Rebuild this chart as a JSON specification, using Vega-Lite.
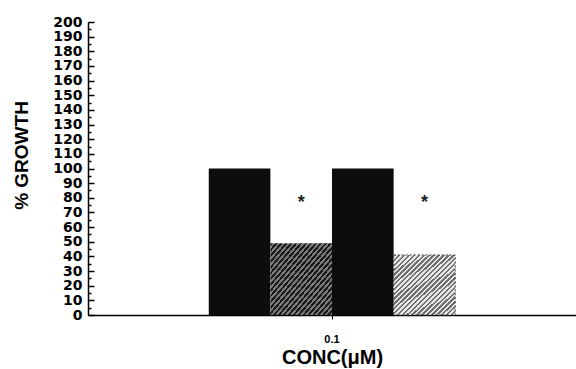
{
  "$schema": "https://vega.github.io/schema/vega-lite/v6.json",
  "width": 488,
  "height": 293,
  "autosize": "none",
  "padding": {"left": 88, "top": 22, "right": 0, "bottom": 54},
  "background": "white",
  "config": {"view": {"stroke": null}, "font": "Liberation Sans"},
  "data": {"values": [
    {"conc": "0.1", "group": "A", "kind": "bar", "value": 100},
    {"conc": "0.1", "group": "B", "kind": "bar", "value": 49},
    {"conc": "0.1", "group": "C", "kind": "bar", "value": 100},
    {"conc": "0.1", "group": "D", "kind": "bar", "value": 41},
    {"conc": "0.1", "group": "B", "kind": "star", "value": 80},
    {"conc": "0.1", "group": "D", "kind": "star", "value": 80}
  ]},
  "encoding": {
    "x": {"field": "conc", "type": "nominal",
      "scale": {"paddingOuter": 0.49, "paddingInner": 0},
      "axis": {"title": "CONC(μM)", "labelAngle": 0, "labelFontSize": 11, "labelFontWeight": "bold",
        "titleFontSize": 20, "titleFontWeight": "bold", "domainColor": "black", "domainWidth": 1.5,
        "tickColor": "black", "tickSize": 4, "labelPadding": 14, "titlePadding": 3,
        "labelColor": "black", "titleColor": "black"}},
    "xOffset": {"field": "group", "type": "nominal",
      "scale": {"domain": ["A", "B", "C", "D"], "paddingInner": 0, "paddingOuter": 0}},
    "y": {"field": "value", "type": "quantitative",
      "scale": {"domain": [0, 200], "nice": false},
      "axis": {"title": "% GROWTH",
        "values": [0,5,10,15,20,25,30,35,40,45,50,55,60,65,70,75,80,85,90,95,100,105,110,115,120,125,130,135,140,145,150,155,160,165,170,175,180,185,190,195,200],
        "labelExpr": "datum.value % 10 === 0 ? datum.label : ''",
        "tickSize": {"condition": {"test": "datum.value % 10 === 0", "value": -6}, "value": -3},
        "grid": false, "labelOverlap": false, "labelFont": "DejaVu Sans", "labelFontSize": 14, "labelFontWeight": "bold",
        "titleFontSize": 19, "titleFontWeight": "bold", "labelPadding": 12, "titlePadding": 21,
        "titleY": 133,
        "domainColor": "black", "domainWidth": 1.5, "tickColor": "black", "tickWidth": 1.5,
        "labelColor": "black", "titleColor": "black"}}
  },
  "layer": [
    {
      "transform": [{"filter": "datum.kind === 'bar' && (datum.group === 'A' || datum.group === 'C')"}],
      "mark": {"type": "bar", "fill": "#0d0d0d"}
    },
    {
      "transform": [{"filter": "datum.kind === 'bar' && datum.group === 'B'"}],
      "mark": {"type": "bar", "fill": {"gradient": "linear", "x1": 0, "y1": 0, "x2": 1, "y2": 1, "stops": [
        {"offset":0,"color":"#1a1a1a"},{"offset":0.02,"color":"#1a1a1a"},{"offset":0.02,"color":"#7a7a7a"},{"offset":0.04,"color":"#7a7a7a"},
        {"offset":0.04,"color":"#1a1a1a"},{"offset":0.06,"color":"#1a1a1a"},{"offset":0.06,"color":"#7a7a7a"},{"offset":0.08,"color":"#7a7a7a"},
        {"offset":0.08,"color":"#1a1a1a"},{"offset":0.1,"color":"#1a1a1a"},{"offset":0.1,"color":"#7a7a7a"},{"offset":0.12,"color":"#7a7a7a"},
        {"offset":0.12,"color":"#1a1a1a"},{"offset":0.14,"color":"#1a1a1a"},{"offset":0.14,"color":"#7a7a7a"},{"offset":0.16,"color":"#7a7a7a"},
        {"offset":0.16,"color":"#1a1a1a"},{"offset":0.18,"color":"#1a1a1a"},{"offset":0.18,"color":"#7a7a7a"},{"offset":0.2,"color":"#7a7a7a"},
        {"offset":0.2,"color":"#1a1a1a"},{"offset":0.22,"color":"#1a1a1a"},{"offset":0.22,"color":"#7a7a7a"},{"offset":0.24,"color":"#7a7a7a"},
        {"offset":0.24,"color":"#1a1a1a"},{"offset":0.26,"color":"#1a1a1a"},{"offset":0.26,"color":"#7a7a7a"},{"offset":0.28,"color":"#7a7a7a"},
        {"offset":0.28,"color":"#1a1a1a"},{"offset":0.3,"color":"#1a1a1a"},{"offset":0.3,"color":"#7a7a7a"},{"offset":0.32,"color":"#7a7a7a"},
        {"offset":0.32,"color":"#1a1a1a"},{"offset":0.34,"color":"#1a1a1a"},{"offset":0.34,"color":"#7a7a7a"},{"offset":0.36,"color":"#7a7a7a"},
        {"offset":0.36,"color":"#1a1a1a"},{"offset":0.38,"color":"#1a1a1a"},{"offset":0.38,"color":"#7a7a7a"},{"offset":0.4,"color":"#7a7a7a"},
        {"offset":0.4,"color":"#1a1a1a"},{"offset":0.42,"color":"#1a1a1a"},{"offset":0.42,"color":"#7a7a7a"},{"offset":0.44,"color":"#7a7a7a"},
        {"offset":0.44,"color":"#1a1a1a"},{"offset":0.46,"color":"#1a1a1a"},{"offset":0.46,"color":"#7a7a7a"},{"offset":0.48,"color":"#7a7a7a"},
        {"offset":0.48,"color":"#1a1a1a"},{"offset":0.5,"color":"#1a1a1a"},{"offset":0.5,"color":"#7a7a7a"},{"offset":0.52,"color":"#7a7a7a"},
        {"offset":0.52,"color":"#1a1a1a"},{"offset":0.54,"color":"#1a1a1a"},{"offset":0.54,"color":"#7a7a7a"},{"offset":0.56,"color":"#7a7a7a"},
        {"offset":0.56,"color":"#1a1a1a"},{"offset":0.58,"color":"#1a1a1a"},{"offset":0.58,"color":"#7a7a7a"},{"offset":0.6,"color":"#7a7a7a"},
        {"offset":0.6,"color":"#1a1a1a"},{"offset":0.62,"color":"#1a1a1a"},{"offset":0.62,"color":"#7a7a7a"},{"offset":0.64,"color":"#7a7a7a"},
        {"offset":0.64,"color":"#1a1a1a"},{"offset":0.66,"color":"#1a1a1a"},{"offset":0.66,"color":"#7a7a7a"},{"offset":0.68,"color":"#7a7a7a"},
        {"offset":0.68,"color":"#1a1a1a"},{"offset":0.7,"color":"#1a1a1a"},{"offset":0.7,"color":"#7a7a7a"},{"offset":0.72,"color":"#7a7a7a"},
        {"offset":0.72,"color":"#1a1a1a"},{"offset":0.74,"color":"#1a1a1a"},{"offset":0.74,"color":"#7a7a7a"},{"offset":0.76,"color":"#7a7a7a"},
        {"offset":0.76,"color":"#1a1a1a"},{"offset":0.78,"color":"#1a1a1a"},{"offset":0.78,"color":"#7a7a7a"},{"offset":0.8,"color":"#7a7a7a"},
        {"offset":0.8,"color":"#1a1a1a"},{"offset":0.82,"color":"#1a1a1a"},{"offset":0.82,"color":"#7a7a7a"},{"offset":0.84,"color":"#7a7a7a"},
        {"offset":0.84,"color":"#1a1a1a"},{"offset":0.86,"color":"#1a1a1a"},{"offset":0.86,"color":"#7a7a7a"},{"offset":0.88,"color":"#7a7a7a"},
        {"offset":0.88,"color":"#1a1a1a"},{"offset":0.9,"color":"#1a1a1a"},{"offset":0.9,"color":"#7a7a7a"},{"offset":0.92,"color":"#7a7a7a"},
        {"offset":0.92,"color":"#1a1a1a"},{"offset":0.94,"color":"#1a1a1a"},{"offset":0.94,"color":"#7a7a7a"},{"offset":0.96,"color":"#7a7a7a"},
        {"offset":0.96,"color":"#1a1a1a"},{"offset":0.98,"color":"#1a1a1a"},{"offset":0.98,"color":"#7a7a7a"},{"offset":1,"color":"#7a7a7a"}
      ]}}
    },
    {
      "transform": [{"filter": "datum.kind === 'bar' && datum.group === 'D'"}],
      "mark": {"type": "bar", "stroke": "#444", "strokeDash": [2, 2], "strokeWidth": 1,
        "fill": {"gradient": "linear", "x1": 0, "y1": 0, "x2": 1, "y2": 1, "stops": [
        {"offset":0,"color":"#707070"},{"offset":0.02,"color":"#707070"},{"offset":0.02,"color":"#e8e8e8"},{"offset":0.04,"color":"#e8e8e8"},
        {"offset":0.04,"color":"#707070"},{"offset":0.06,"color":"#707070"},{"offset":0.06,"color":"#e8e8e8"},{"offset":0.08,"color":"#e8e8e8"},
        {"offset":0.08,"color":"#707070"},{"offset":0.1,"color":"#707070"},{"offset":0.1,"color":"#e8e8e8"},{"offset":0.12,"color":"#e8e8e8"},
        {"offset":0.12,"color":"#707070"},{"offset":0.14,"color":"#707070"},{"offset":0.14,"color":"#e8e8e8"},{"offset":0.16,"color":"#e8e8e8"},
        {"offset":0.16,"color":"#707070"},{"offset":0.18,"color":"#707070"},{"offset":0.18,"color":"#e8e8e8"},{"offset":0.2,"color":"#e8e8e8"},
        {"offset":0.2,"color":"#707070"},{"offset":0.22,"color":"#707070"},{"offset":0.22,"color":"#e8e8e8"},{"offset":0.24,"color":"#e8e8e8"},
        {"offset":0.24,"color":"#707070"},{"offset":0.26,"color":"#707070"},{"offset":0.26,"color":"#e8e8e8"},{"offset":0.28,"color":"#e8e8e8"},
        {"offset":0.28,"color":"#707070"},{"offset":0.3,"color":"#707070"},{"offset":0.3,"color":"#e8e8e8"},{"offset":0.32,"color":"#e8e8e8"},
        {"offset":0.32,"color":"#707070"},{"offset":0.34,"color":"#707070"},{"offset":0.34,"color":"#e8e8e8"},{"offset":0.36,"color":"#e8e8e8"},
        {"offset":0.36,"color":"#707070"},{"offset":0.38,"color":"#707070"},{"offset":0.38,"color":"#e8e8e8"},{"offset":0.4,"color":"#e8e8e8"},
        {"offset":0.4,"color":"#707070"},{"offset":0.42,"color":"#707070"},{"offset":0.42,"color":"#e8e8e8"},{"offset":0.44,"color":"#e8e8e8"},
        {"offset":0.44,"color":"#707070"},{"offset":0.46,"color":"#707070"},{"offset":0.46,"color":"#e8e8e8"},{"offset":0.48,"color":"#e8e8e8"},
        {"offset":0.48,"color":"#707070"},{"offset":0.5,"color":"#707070"},{"offset":0.5,"color":"#e8e8e8"},{"offset":0.52,"color":"#e8e8e8"},
        {"offset":0.52,"color":"#707070"},{"offset":0.54,"color":"#707070"},{"offset":0.54,"color":"#e8e8e8"},{"offset":0.56,"color":"#e8e8e8"},
        {"offset":0.56,"color":"#707070"},{"offset":0.58,"color":"#707070"},{"offset":0.58,"color":"#e8e8e8"},{"offset":0.6,"color":"#e8e8e8"},
        {"offset":0.6,"color":"#707070"},{"offset":0.62,"color":"#707070"},{"offset":0.62,"color":"#e8e8e8"},{"offset":0.64,"color":"#e8e8e8"},
        {"offset":0.64,"color":"#707070"},{"offset":0.66,"color":"#707070"},{"offset":0.66,"color":"#e8e8e8"},{"offset":0.68,"color":"#e8e8e8"},
        {"offset":0.68,"color":"#707070"},{"offset":0.7,"color":"#707070"},{"offset":0.7,"color":"#e8e8e8"},{"offset":0.72,"color":"#e8e8e8"},
        {"offset":0.72,"color":"#707070"},{"offset":0.74,"color":"#707070"},{"offset":0.74,"color":"#e8e8e8"},{"offset":0.76,"color":"#e8e8e8"},
        {"offset":0.76,"color":"#707070"},{"offset":0.78,"color":"#707070"},{"offset":0.78,"color":"#e8e8e8"},{"offset":0.8,"color":"#e8e8e8"},
        {"offset":0.8,"color":"#707070"},{"offset":0.82,"color":"#707070"},{"offset":0.82,"color":"#e8e8e8"},{"offset":0.84,"color":"#e8e8e8"},
        {"offset":0.84,"color":"#707070"},{"offset":0.86,"color":"#707070"},{"offset":0.86,"color":"#e8e8e8"},{"offset":0.88,"color":"#e8e8e8"},
        {"offset":0.88,"color":"#707070"},{"offset":0.9,"color":"#707070"},{"offset":0.9,"color":"#e8e8e8"},{"offset":0.92,"color":"#e8e8e8"},
        {"offset":0.92,"color":"#707070"},{"offset":0.94,"color":"#707070"},{"offset":0.94,"color":"#e8e8e8"},{"offset":0.96,"color":"#e8e8e8"},
        {"offset":0.96,"color":"#707070"},{"offset":0.98,"color":"#707070"},{"offset":0.98,"color":"#e8e8e8"},{"offset":1,"color":"#e8e8e8"}
      ]}}
    },
    {
      "transform": [{"filter": "datum.kind === 'star'"}],
      "mark": {"type": "text", "text": "*", "fontSize": 18, "fontWeight": "bold", "baseline": "middle", "dy": 5, "color": "#222"}
    }
  ]
}
